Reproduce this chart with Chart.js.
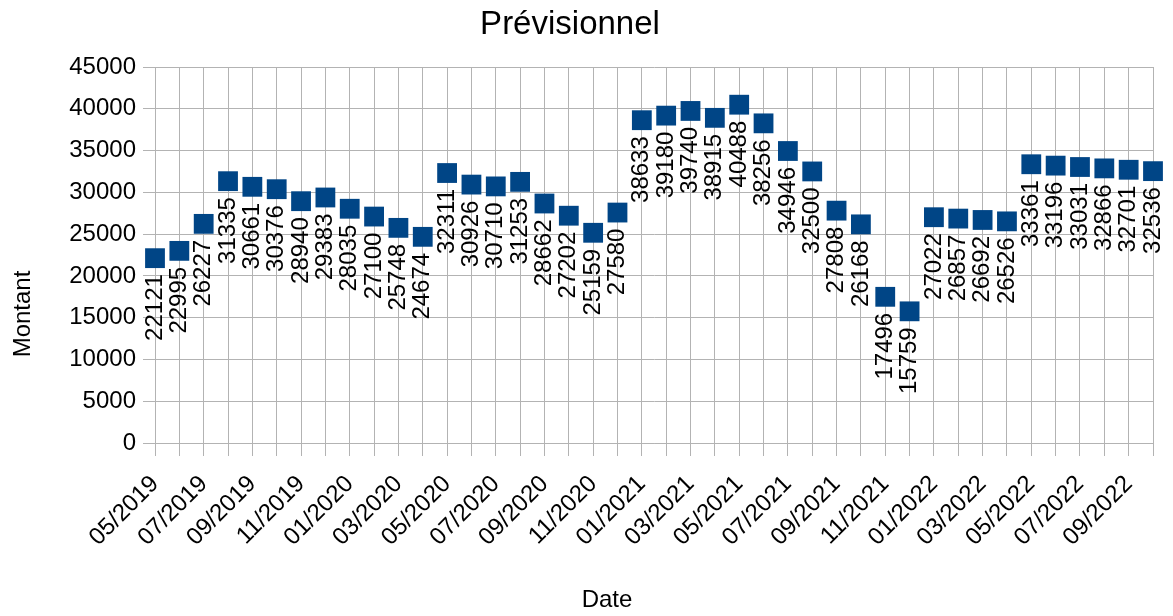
<!DOCTYPE html>
<html>
<head>
<meta charset="utf-8">
<script src="https://cdn.jsdelivr.net/npm/chart.js@4.4.1/dist/chart.umd.min.js"></script>
<style>
    html, body { margin: 0; padding: 0; background: #fff; }
    #wrap { width: 1173px; height: 616px; position: relative; }
</style>
</head>
<body>
<div id="wrap"><canvas id="chart"></canvas></div>
<script>
// Mois (05/2019 -> 10/2022)
const months = [
    '05/2019', '06/2019', '07/2019', '08/2019', '09/2019', '10/2019', '11/2019', '12/2019',
    '01/2020', '02/2020', '03/2020', '04/2020', '05/2020', '06/2020', '07/2020', '08/2020',
    '09/2020', '10/2020', '11/2020', '12/2020',
    '01/2021', '02/2021', '03/2021', '04/2021', '05/2021', '06/2021', '07/2021', '08/2021',
    '09/2021', '10/2021', '11/2021', '12/2021',
    '01/2022', '02/2022', '03/2022', '04/2022', '05/2022', '06/2022', '07/2022', '08/2022',
    '09/2022', '10/2022'
];

// Montants prévisionnels
const montants = [
    22121, 22995, 26227, 31335, 30661, 30376, 28940, 29383, 28035, 27100, 25748, 24674,
    32311, 30926, 30710, 31253, 28662, 27202, 25159, 27580,
    38633, 39180, 39740, 38915, 40488, 38256, 34946, 32500, 27808, 26168, 17496, 15759,
    27022, 26857, 26692, 26526, 33361, 33196, 33031, 32866, 32701, 32536
];

const yMin = 0;
const yMax = 45000;
const yStep = 5000;

const chartTitle = 'Prévisionnel';
const xTitle = 'Date';
const yTitle = 'Montant';

const FONT = '"Liberation Sans", Arial, sans-serif';
const GRID = '#b3b3b3';
const BLUE = '#004586';

// Étiquettes de valeurs, tournées à la verticale sous chaque marqueur
const valueLabels = {
    id: 'valueLabels',
    afterDatasetsDraw(chart) {
        const ctx = chart.ctx;
        const meta = chart.getDatasetMeta(0);
        ctx.save();
        ctx.font = '24px ' + FONT;
        ctx.fillStyle = '#000';
        ctx.textAlign = 'right';
        ctx.textBaseline = 'middle';
        meta.data.forEach((pt, i) => {
            ctx.save();
            ctx.translate(pt.x, pt.y + 16);
            ctx.rotate(-Math.PI / 2);
            ctx.fillText(String(montants[i]), 0, 0);
            ctx.restore();
        });
        ctx.restore();
    }
};

// Titres (principal + axes) placés comme dans le rendu LibreOffice
const titles = {
    id: 'titles',
    afterDraw(chart) {
        const ctx = chart.ctx;
        ctx.save();
        ctx.fillStyle = '#000';
        ctx.textAlign = 'center';
        ctx.textBaseline = 'alphabetic';

        ctx.font = '33px ' + FONT;
        ctx.fillText(chartTitle, 570, 34);

        ctx.font = '24px ' + FONT;
        ctx.fillText(xTitle, 607, 607);

        ctx.translate(30, 314);
        ctx.rotate(-Math.PI / 2);
        ctx.fillText(yTitle, 0, 0);
        ctx.restore();
    }
};

new Chart(document.getElementById('chart'), {
    type: 'line',
    data: {
        labels: months,
        datasets: [{
            label: chartTitle,
            data: montants,
            showLine: false,
            pointStyle: 'rect',
            pointRadius: 14,
            pointBorderWidth: 0,
            pointBackgroundColor: BLUE,
            pointBorderColor: BLUE
        }]
    },
    options: {
        responsive: true,
        maintainAspectRatio: false,
        animation: false,
        events: [],
        layout: { padding: { top: 67, right: 20, bottom: 0, left: 0 } },
        plugins: {
            legend: { display: false },
            title: { display: false },
            tooltip: { enabled: false }
        },
        scales: {
            x: {
                offset: false,
                grid: { color: GRID, lineWidth: 1, tickLength: 13, tickColor: GRID },
                border: { color: GRID },
                ticks: {
                    autoSkip: false,
                    minRotation: 45,
                    maxRotation: 45,
                    padding: 14,
                    color: '#000',
                    font: { family: FONT, size: 24 },
                    callback: function(value, index) {
                        return index % 2 === 0 ? months[index] : '';
                    }
                },
                afterFit: function(scale) {
                    scale.height = 173;
                    // pas de marge auto : la zone de tracé va jusqu'au bord droit
                    scale.paddingLeft = 0;
                    scale.paddingRight = 0;
                }
            },
            y: {
                min: yMin,
                max: yMax,
                grid: { color: GRID, lineWidth: 1, tickLength: 12, tickColor: GRID },
                border: { color: GRID },
                ticks: {
                    stepSize: yStep,
                    padding: 7,
                    color: '#000',
                    font: { family: FONT, size: 24 },
                    callback: function(value) { return String(value); }
                },
                afterFit: function(scale) { scale.width = 155; }
            }
        }
    },
    plugins: [valueLabels, titles]
});
</script>
</body>
</html>
